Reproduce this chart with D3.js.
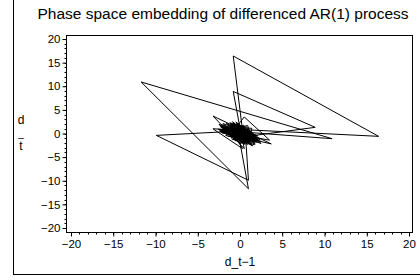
<!DOCTYPE html>
<html>
<head>
<meta charset="utf-8">
<script src="https://cdn.jsdelivr.net/npm/d3@7"></script>
<style>
    body { margin: 0; background: #fff; }
    text { font-family: "Liberation Sans", Arial, sans-serif; fill: #000; }
</style>
</head>
<body>
<svg id="drawing_region"></svg>
<script>
// differenced AR(1) series (each step is a point (d_t-1, d_t))
const d_values = [
    0.4, -0.7, 1.1, -0.3, -1.4, 0.9, 0.2, -0.6, 1.5, -1.2,
    0.3, 0.8, -0.9, -0.2, 1.3, -1.7, 0.6, 0.1, -0.5, 1.0,
    -1.1, 0.7, -0.4, 2.1, -1.6, 0.2, 0.4, -0.8, 16.4, -0.6,
    0.9, -1.3, 0.4, 1.2, -0.7, -0.1, 0.6, -2.2, 1.4, 0.3,
    -0.9, 0.8, -0.5, 1.7, -1.0, 0.2, -0.3, 1.0, -11.7, 10.9,
    -1.1, 0.5, -0.6, 1.3, -1.5, 0.7, 0.4, -0.8, 0.5, 3.5,
    -1.4, 0.1, 0.9, -0.2, -1.1, 1.6, -0.4, 0.3, -1.8, 1.2,
    0.6, 1.0, -9.9, -0.4, 0.5, -1.2, 0.8, -0.1, 1.5, -0.9,
    0.3, -3.2, 1.0, 0.6, -1.3, 0.4, -0.7, 1.9, -1.0, 0.2,
    -0.8, 8.9, 1.3, -0.5, 0.7, -1.6, 1.1, 0.3, -0.4, 1.4,
    -2.3, 0.8, -0.6, 1.4, -1.2, 0.1, 0.5, -3.2, 3.7, -2.2,
    0.2, -0.9, 1.2, -0.2, 0.6, -1.4, 0.9, -0.7, 0.4, 1.8,
    -1.9, 0.7, -0.1, -0.6, 1.1, -0.8, 0.3, 0.5, -1.0, 2.2,
    -1.5, 0.6, -0.3, 1.0, -1.2, 0.2, 0.8, -0.5, -1.6, 1.3,
    -1.0, 0.6, -2.3, 1.4, 1.1, -1.7, -0.4, 2.0, -1.1, 0.3,
    -2.1, 1.5, -0.8, 0.9, 1.7, -2.4, 0.5, -0.3, 1.1, -1.6,
    2.1, -0.9, -1.3, 0.8, 0.1, -2.2, 1.9, -0.5, 2.4, -1.4,
    -0.6, 1.0, -1.9, 1.3, 0.4, -1.1, 1.5, -2.6, 0.9, 0.2,
    -0.8, 2.2, -1.5, 0.5, -1.0, 1.6, -0.1, -2.0, 1.1, 0.6,
    -1.3, 1.4, -2.5, 1.9, -0.4, 0.8, -1.7, 1.0, -0.9, 2.5,
    -2.1, 0.4, 1.2, -1.1, -0.5, 1.8, -1.4, 0.9, -2.3, 1.5,
    0.1, -0.8, 2.0, -1.8, 0.6, -0.3, 1.1, -1.6, 0.5, -1.0,
    1.8, -2.2, 0.8, 1.4, -0.6, -1.5, 1.0, 0.2, -2.0, 2.1,
    -0.5, 0.4, -1.2, 2.3, -1.7, 0.9, -1.1, 0.1, 1.5, -0.9
];
const x_ticks = [-20, -15, -10, -5, 0, 5, 10, 15, 20];
const y_ticks = [-20, -15, -10, -5, 0, 5, 10, 15, 20];
const minor_ticks = d3.range(-20, 21, 1);
const title_text = "Phase space embedding of differenced AR(1) process";
const x_label = "d_t\u22121";

var config = {
    parent: '#drawing_region',
    width: 420,
    height: 280
};

let svg = d3.select(config.parent)
    .attr('width', config.width)
    .attr('height', config.height);

// outer border
svg.append('rect')
    .attr('x', 13.5).attr('y', -2)
    .attr('width', 420).attr('height', 276.5)
    .attr('fill', 'none')
    .attr('stroke', '#000');

// plot frame
const frame = { left: 66.5, top: 35.5, right: 412.5, bottom: 232.5 };

const xscale = d3.scaleLinear().domain([-20, 20]).range([71, 409]);
const yscale = d3.scaleLinear().domain([-20, 20]).range([228, 39]);

svg.append('clipPath').attr('id', 'clip')
    .append('rect')
    .attr('x', frame.left).attr('y', frame.top)
    .attr('width', frame.right - frame.left).attr('height', frame.bottom - frame.top);

// phase space points
let points = [];
for (let i = 1; i < d_values.length; i++) {
    points.push([d_values[i - 1], d_values[i]]);
}

const line = d3.line()
    .x(p => xscale(p[0]))
    .y(p => yscale(p[1]));

svg.append('path')
    .datum(points)
    .attr('clip-path', 'url(#clip)')
    .attr('d', line)
    .attr('fill', 'none')
    .attr('stroke', '#000')
    .attr('stroke-width', 1);

// axes
const xaxis = d3.axisBottom(xscale).tickValues(x_ticks).tickSize(4).tickSizeOuter(0).tickPadding(3);
const yaxis = d3.axisLeft(yscale).tickValues(y_ticks).tickSize(4).tickSizeOuter(0).tickPadding(2);

let xaxis_group = svg.append('g')
    .attr('transform', `translate(0, ${frame.bottom})`)
    .call(xaxis);
let yaxis_group = svg.append('g')
    .attr('transform', `translate(${frame.left}, 0)`)
    .call(yaxis);

xaxis_group.selectAll('.domain').remove();
yaxis_group.selectAll('.domain').remove();

// minor ticks
xaxis_group.selectAll('.minor').data(minor_ticks).join('line')
    .attr('class', 'minor')
    .attr('x1', d => Math.round(xscale(d)) + 0.5).attr('x2', d => Math.round(xscale(d)) + 0.5)
    .attr('y1', 0).attr('y2', 2)
    .attr('stroke', '#000');
yaxis_group.selectAll('.minor').data(minor_ticks).join('line')
    .attr('class', 'minor')
    .attr('y1', d => Math.round(yscale(d)) + 0.5).attr('y2', d => Math.round(yscale(d)) + 0.5)
    .attr('x1', 0).attr('x2', -2)
    .attr('stroke', '#000');

svg.selectAll('.tick text')
    .attr('font-size', '11.5px')
    .attr('font-family', '"Liberation Sans", Arial, sans-serif');

svg.append('rect')
    .attr('x', frame.left).attr('y', frame.top)
    .attr('width', frame.right - frame.left).attr('height', frame.bottom - frame.top)
    .attr('fill', 'none')
    .attr('stroke', '#000');

// title and labels
svg.append('text')
    .attr('x', 223).attr('y', 19)
    .attr('text-anchor', 'middle')
    .attr('font-size', '15.5px')
    .text(title_text);

svg.append('text')
    .attr('x', 240).attr('y', 266)
    .attr('text-anchor', 'middle')
    .attr('font-size', '12px')
    .text(x_label);

let ylab = svg.append('g').attr('transform', 'translate(21, 0)');
ylab.append('text').attr('y', 124).attr('text-anchor', 'middle').attr('font-size', '12px').text('d');
ylab.append('text').attr('y', 137).attr('text-anchor', 'middle').attr('font-size', '10px').text('_');
ylab.append('text').attr('y', 150).attr('text-anchor', 'middle').attr('font-size', '12px').text('t');
</script>
</body>
</html>
